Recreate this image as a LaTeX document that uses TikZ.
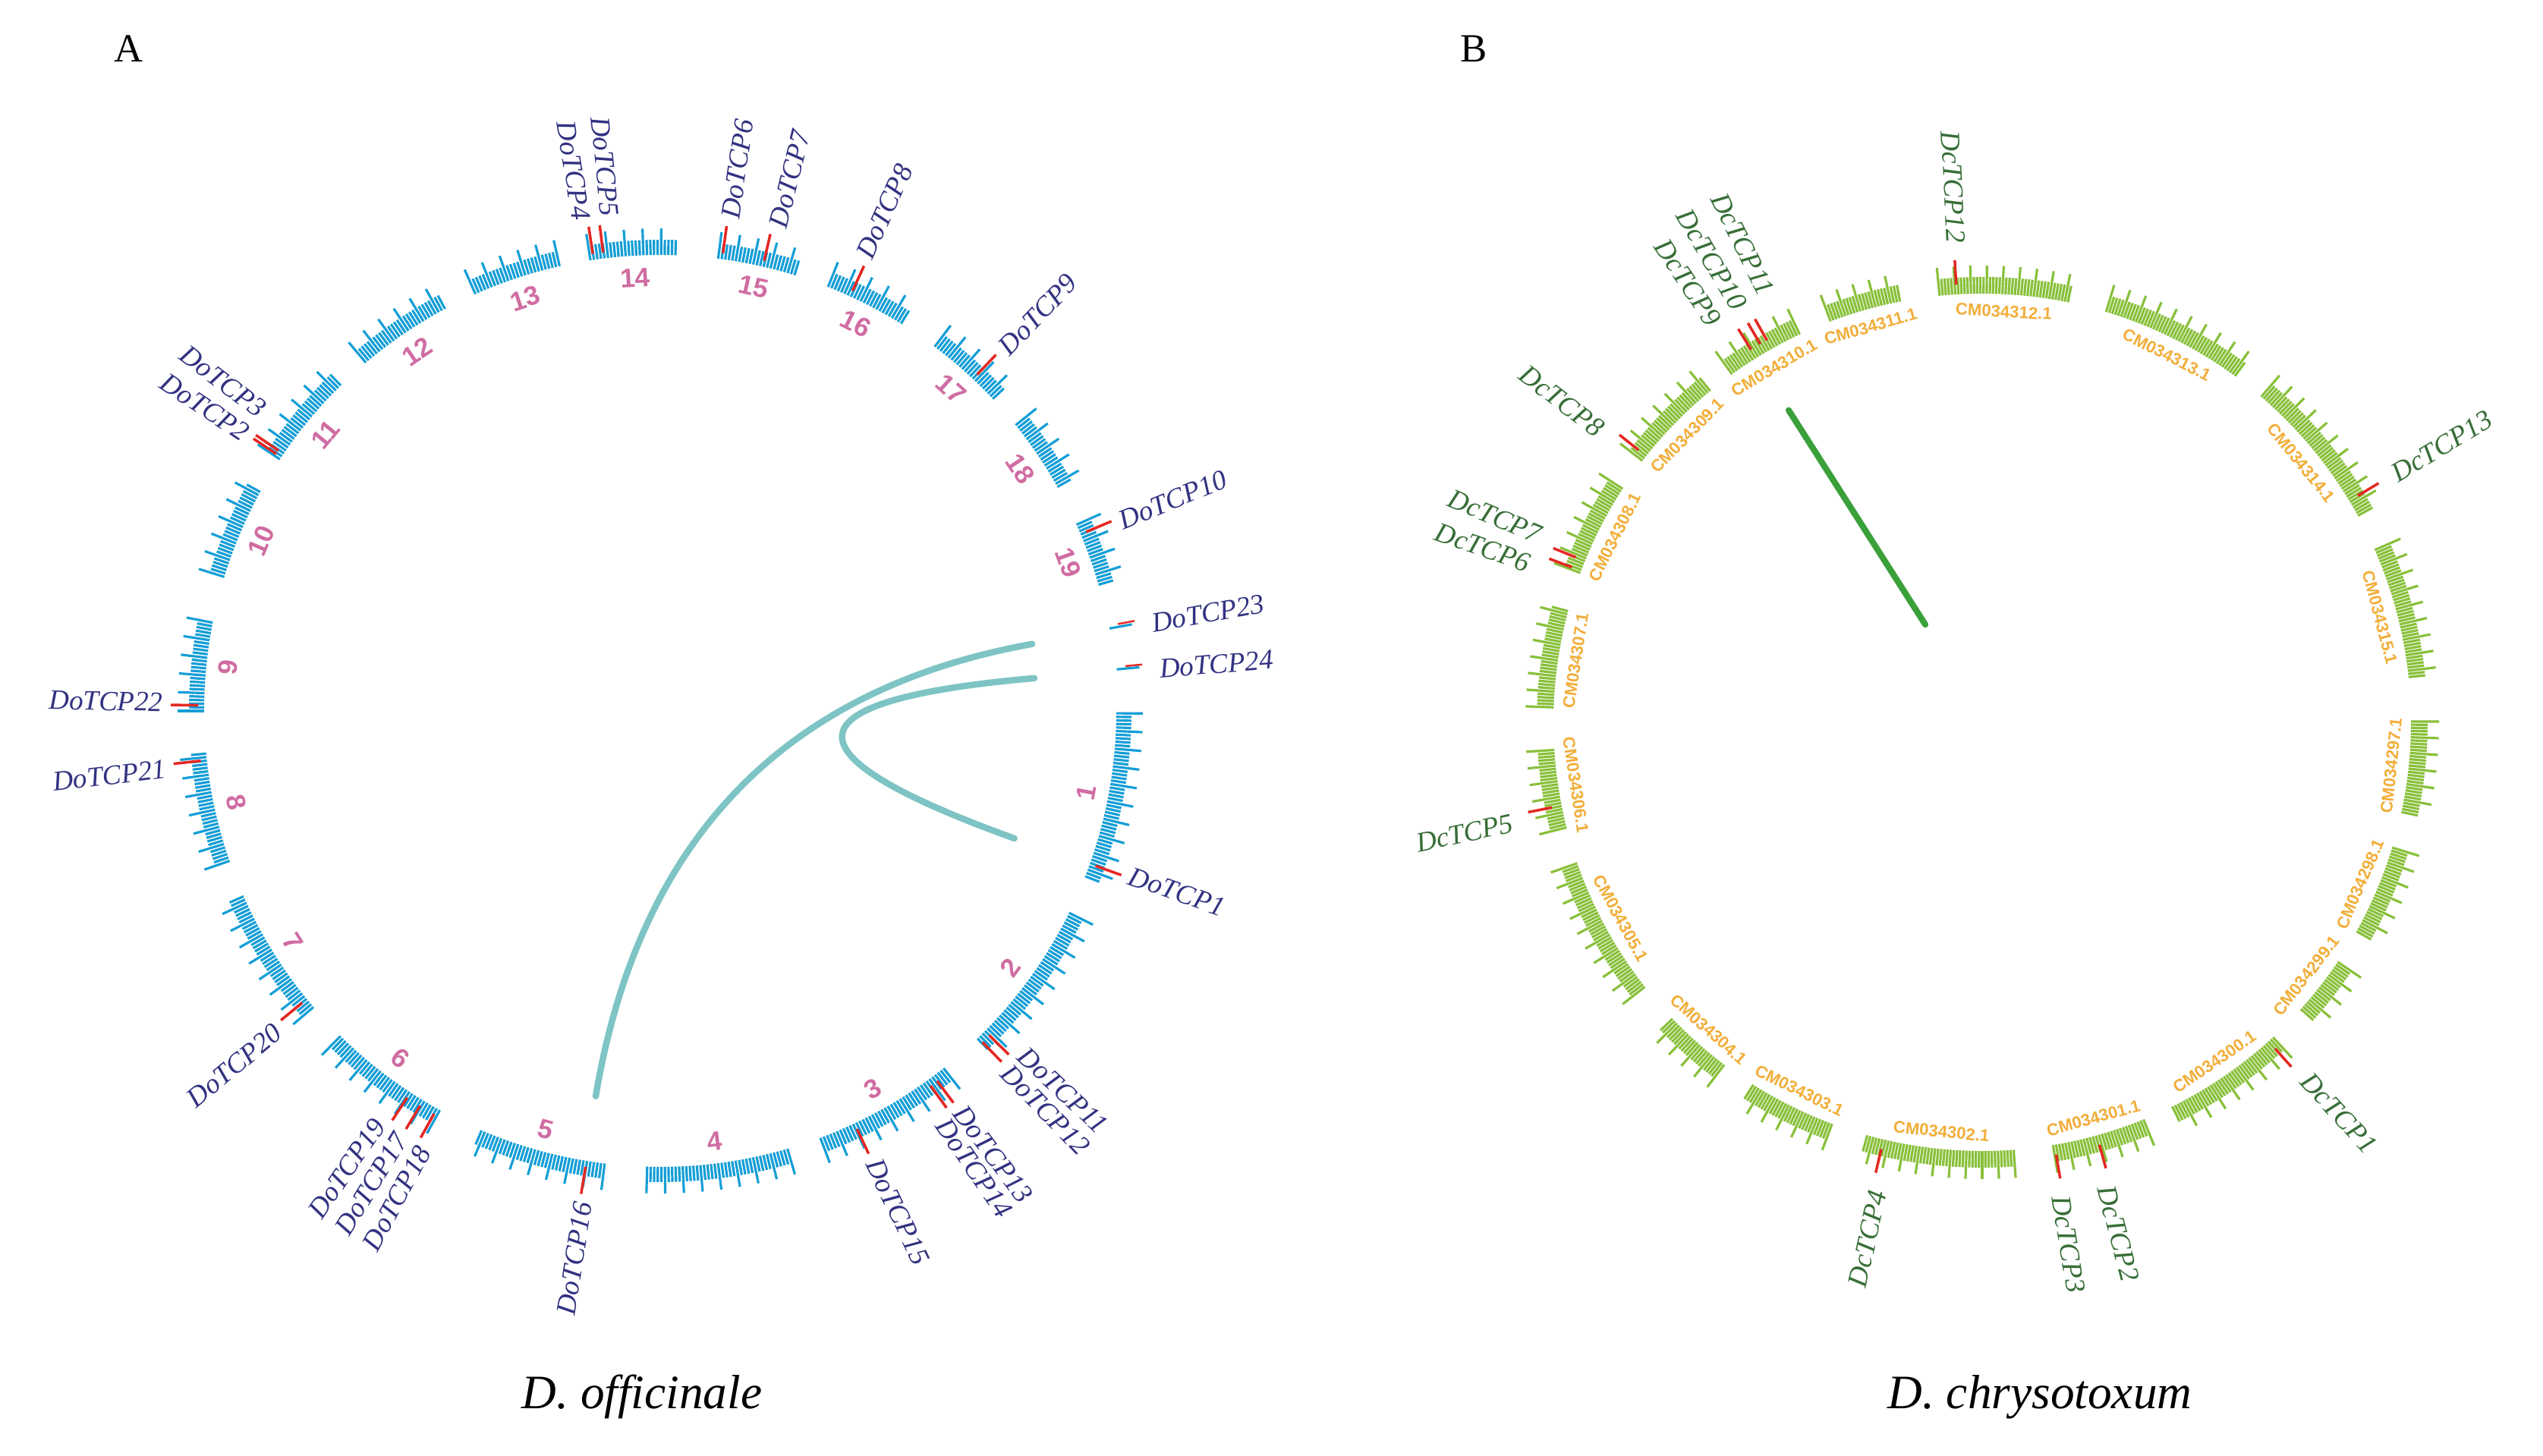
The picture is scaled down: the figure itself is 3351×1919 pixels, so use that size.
\documentclass[tikz,border=0pt]{standalone}
\usepackage{fontspec}
\setmainfont{Liberation Serif}
\setsansfont{Liberation Sans}
\definecolor{tkblue}{RGB}{20,158,214}
\definecolor{tkgreen}{RGB}{136,192,58}
\definecolor{tkred}{RGB}{228,40,35}
\definecolor{numpink}{RGB}{208,108,162}
\definecolor{cmorange}{RGB}{242,174,58}
\definecolor{dotext}{RGB}{50,50,130}
\definecolor{dctext}{RGB}{55,110,55}
\definecolor{linkteal}{RGB}{126,196,196}
\definecolor{linkgreen}{RGB}{58,160,58}
\tikzset{
  ltick/.style={draw=tkblue, line width=0.9pt},
  rtick/.style={draw=tkgreen, line width=0.9pt},
  redtick/.style={draw=tkred, line width=1pt},
  numlab/.style={text=numpink, font=\sffamily\bfseries\fontsize{10}{11}\selectfont, inner sep=0pt},
  cmlab/.style={text=cmorange, font=\sffamily\bfseries\fontsize{6.3}{7}\selectfont, inner sep=0pt},
  dolab/.style={text=dotext, font=\fontsize{10.5}{12}\selectfont\itshape, inner sep=0pt},
  dclab/.style={text=dctext, font=\fontsize{10.5}{12}\selectfont\itshape, inner sep=0pt},
  linkstyle/.style={draw=linkteal, line width=2.4pt, line cap=round},
  glinkstyle/.style={draw=linkgreen, line width=2.3pt, line cap=round},
  panellab/.style={font=\fontsize{15}{17}\selectfont, inner sep=0pt},
  caption/.style={font=\fontsize{18}{20}\selectfont\itshape, anchor=base, inner sep=0pt}
}
% left chromosome: start angle, end angle, label
\newcommand\chrL[3]{%
  \pgfmathtruncatemacro\chN{(#1-(#2))/0.446}%
  \foreach \i in {0,...,\chN}{%
    \pgfmathsetmacro\chA{#1-\i*0.446}%
    \pgfmathtruncatemacro\chM{mod(\i,5)}%
    \ifnum\chM=0 \draw[ltick] (\chA:601) -- (\chA:636);%
    \else \draw[ltick] (\chA:601) -- (\chA:621);\fi}%
  \pgfmathsetmacro\chMid{(#1+#2)/2}%
  \pgfmathsetmacro\chRot{\chMid>0 ? \chMid-90 : \chMid+90}%
  \node[numlab, rotate=\chRot] (L#3) at (\chMid:572) {#3};}
% right chromosome: start, end, name, label
\newcommand\chrR[4]{%
  \pgfmathtruncatemacro\chN{(#1-(#2))/0.42}%
  \foreach \i in {0,...,\chN}{%
    \pgfmathsetmacro\chA{#1-\i*0.42}%
    \pgfmathtruncatemacro\chM{mod(\i,5)}%
    \ifnum\chM=0 \draw[rtick] (\chA:565) -- (\chA:602);%
    \else \draw[rtick] (\chA:565) -- (\chA:587);\fi}%
  \pgfmathsetmacro\chMid{(#1+#2)/2}%
  \pgfmathsetmacro\chRot{\chMid>0 ? \chMid-90 : \chMid+90}%
  \node[cmlab, rotate=\chRot] (#3) at (\chMid:542) {#4};}
% gene labels: tick angle, label angle, text
\newcommand\geneL[3]{%
  \draw[redtick] (#1:609) -- (#1:645);%
  \pgfmathtruncatemacro\gR{cos(#2)>0 ? 1 : 0}%
  \ifnum\gR=1 \node[dolab, rotate=#2, anchor=west] (g#3) at (#2:655) {#3};%
  \else \pgfmathsetmacro\gA{#2+180}\node[dolab, rotate=\gA, anchor=east] (g#3) at (#2:655) {#3};\fi}
\newcommand\geneR[3]{%
  \draw[redtick] (#1:578) -- (#1:610);%
  \pgfmathtruncatemacro\gR{cos(#2)>0 ? 1 : 0}%
  \ifnum\gR=1 \node[dclab, rotate=#2, anchor=west] (g#3) at (#2:632) {#3};%
  \else \pgfmathsetmacro\gA{#2+180}\node[dclab, rotate=\gA, anchor=east] (g#3) at (#2:632) {#3};\fi}

\begin{document}
\begin{tikzpicture}[x=0.01cm, y=0.01cm]
\useasboundingbox (0,0) rectangle (3351,1919);
\fill[white] (0,0) rectangle (3351,1919);

\node[panellab] (A) at (170,1855) {A};
\node[panellab] (B) at (1942,1855) {B};
\node[caption] (capA) at (846,62) {D. officinale};
\node[caption] (capB) at (2688,62) {D. chrysotoxum};

% ---------------- left circle ----------------
\begin{scope}[shift={(870,982)}]
  \chrL{-0.3}{-21.3}{1}
  \chrL{-26.3}{-46.3}{2}
  \chrL{-51.6}{-69.7}{3}
  \chrL{-73.8}{-91.8}{4}
  \chrL{-97}{-113.5}{5}
  \chrL{-118.9}{-134.7}{6}
  \chrL{-139.5}{-156.3}{7}
  \chrL{-160.8}{-174.8}{8}
  \chrL{180}{168.5}{9}
  \chrL{162.9}{150.9}{10}
  \chrL{146.5}{134.4}{11}
  \chrL{130.2}{118}{12}
  \chrL{113.9}{102.4}{13}
  \chrL{98.8}{87.8}{14}
  \chrL{82.7}{72.5}{15}
  \chrL{68.4}{58}{16}
  \chrL{53}{42.9}{17}
  \chrL{38.8}{29}{18}
  \chrL{24.1}{15.9}{19}
  % scaffolds
  \draw[ltick] (10.4:602) -- (10.4:632);
  \draw[redtick, line width=0.7pt] (10.75:614) -- (10.75:636);
  \draw[ltick] (5.2:604) -- (5.2:634);
  \draw[redtick, line width=0.7pt] (5.5:616) -- (5.5:638);
  \node[dolab, rotate=10.1, anchor=west] (gDoTCP23) at (10.1:658) {DoTCP23};
  \node[dolab, rotate=4.8, anchor=west] (gDoTCP24) at (4.8:660) {DoTCP24};
  % genes
  \geneL{-19.6}{-19.3}{DoTCP1}
  \geneL{146.2}{146.3}{DoTCP2}
  \geneL{145.7}{143.0}{DoTCP3}
  \geneL{98.4}{99.1}{DoTCP4}
  \geneL{97.1}{95.8}{DoTCP5}
  \geneL{82.2}{81.9}{DoTCP6}
  \geneL{77.0}{76.3}{DoTCP7}
  \geneL{65.4}{65.8}{DoTCP8}
  \geneL{46.7}{46.4}{DoTCP9}
  \geneL{22.8}{22.4}{DoTCP10}
  \geneL{-44.6}{-43.3}{DoTCP11}
  \geneL{-45.8}{-46.0}{DoTCP12}
  \geneL{-53.2}{-53.1}{DoTCP13}
  \geneL{-54.2}{-55.5}{DoTCP14}
  \geneL{-64.8}{-64.6}{DoTCP15}
  \geneL{-99.3}{-98.9}{DoTCP16}
  \geneL{-121.3}{-121.4}{DoTCP17}
  \geneL{-119.3}{-118.4}{DoTCP18}
  \geneL{-123.2}{-124.4}{DoTCP19}
  \geneL{-140.8}{-140.2}{DoTCP20}
  \geneL{-173.8}{-173.3}{DoTCP21}
  \geneL{179.3}{179.0}{DoTCP22}
  % links
  \coordinate (p23) at (10.2:498);
  \coordinate (p16) at (-99.5:515);
  \coordinate (p24) at (5:495);
  \coordinate (p1) at (-19.8:496);
  \draw[linkstyle] (p23) .. controls (10.2:166) and (-99.5:172) .. (p16);
  \draw[linkstyle] (p24) .. controls (5:165) and (-19.8:165) .. (p1);
\end{scope}

% ---------------- right circle ----------------
\begin{scope}[shift={(2612,967)}]
  \chrR{0.1}{-12.2}{c297}{CM034297.1}
  \chrR{-17}{-29.3}{c298}{CM034298.1}
  \chrR{-34}{-42}{c299}{CM034299.1}
  \chrR{-47.3}{-64}{c300}{CM034300.1}
  \chrR{-67.9}{-80.7}{c301}{CM034301.1}
  \chrR{-85.8}{-105.6}{c302}{CM034302.1}
  \chrR{-110.5}{-122.3}{c303}{CM034303.1}
  \chrR{-127}{-136.4}{c304}{CM034304.1}
  \chrR{-141.9}{-161.2}{c305}{CM034305.1}
  \chrR{-165.8}{-176.7}{c306}{CM034306.1}
  \chrR{178}{164.8}{c307}{CM034307.1}
  \chrR{159.6}{146.9}{c308}{CM034308.1}
  \chrR{142.4}{129.2}{c309}{CM034309.1}
  \chrR{125.7}{115.1}{c310}{CM034310.1}
  \chrR{110.7}{100.8}{c311}{CM034311.1}
  \chrR{95.7}{78.3}{c312}{CM034312.1}
  \chrR{73.2}{53.5}{c313}{CM034313.1}
  \chrR{49.4}{28.8}{c314}{CM034314.1}
  \chrR{23.7}{5.9}{c315}{CM034315.1}
  \geneR{-48.1}{-47.6}{DcTCP1}
  \geneR{-74.5}{-75.1}{DcTCP2}
  \geneR{-80.3}{-80.6}{DcTCP3}
  \geneR{-103.3}{-102.5}{DcTCP4}
  \geneR{-168.8}{-167.9}{DcTCP5}
  \geneR{159.3}{160.7}{DcTCP6}
  \geneR{157.9}{157.1}{DcTCP7}
  \geneR{141.6}{142.6}{DcTCP8}
  \geneR{121.8}{123.8}{DcTCP9}
  \geneR{120.4}{120.3}{DcTCP10}
  \geneR{119.4}{116.6}{DcTCP11}
  \geneR{93.4}{93.1}{DcTCP12}
  \geneR{31.1}{31.0}{DcTCP13}
  \coordinate (q1) at (121.8:484);
  \coordinate (q2) at (120.2:149);
  \draw[glinkstyle] (q1) -- (q2);
\end{scope}
\end{tikzpicture}
\end{document}
